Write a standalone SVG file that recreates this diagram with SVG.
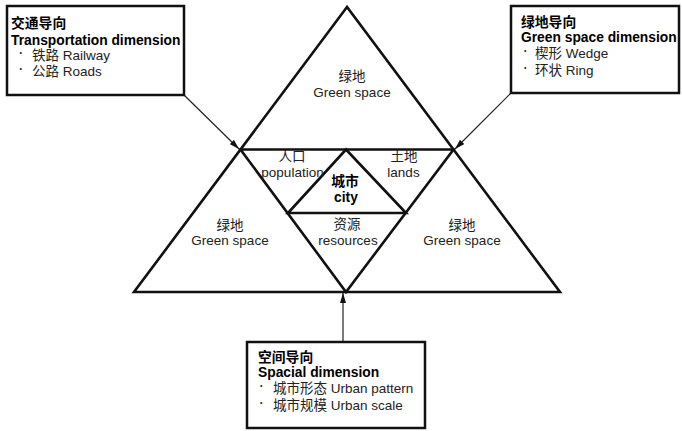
<svg xmlns="http://www.w3.org/2000/svg" width="682" height="431" viewBox="0 0 682 431">
<style>
.t{font-family:"Liberation Sans","Noto Sans CJK SC",Arial,sans-serif;font-size:13.5px;fill:#222}
.b{font-family:"Liberation Sans","Noto Sans CJK SC",Arial,sans-serif;font-size:13.8px;font-weight:bold;fill:#000}
.c{text-anchor:middle}
.dot{font-family:"Liberation Sans",sans-serif;font-size:7px;fill:#222}
.box{fill:#fff;stroke:#111;stroke-width:2.5}
.tri{fill:none;stroke:#111;stroke-width:2.6;stroke-linejoin:miter}
.arr{stroke:#222;stroke-width:1.2;fill:none}
</style>
<defs>
<marker id="ah" viewBox="0 0 10 6" refX="10" refY="3" markerWidth="10" markerHeight="6" markerUnits="userSpaceOnUse" orient="auto">
<path d="M0,0 L10,3 L0,6 Z" fill="#111"/>
</marker>
</defs>
<rect width="682" height="431" fill="#fff"/>

<g id="triangles">
<polygon class="tri" points="347,7 134,292 560,292"/>
<polygon class="tri" points="240.5,149.5 453.5,149.5 346,292"/>
<polygon class="tri" points="346,149.5 288,213 406,213"/>
</g>

<g id="connectors">
<line class="arr" x1="184" y1="95" x2="239" y2="149" marker-end="url(#ah)"/>
<line class="arr" x1="511" y1="93" x2="455" y2="149" marker-end="url(#ah)"/>
<line class="arr" x1="343" y1="342" x2="343" y2="293" marker-end="url(#ah)"/>
</g>

<g id="top-green">
<text class="t c" x="352" y="81">绿地</text>
<text class="t c" x="352" y="97">Green space</text>
</g>
<g id="left-green">
<text class="t c" x="230" y="230">绿地</text>
<text class="t c" x="230" y="245">Green space</text>
</g>
<g id="right-green">
<text class="t c" x="462" y="230">绿地</text>
<text class="t c" x="462" y="245">Green space</text>
</g>
<g id="population">
<text class="t c" x="292" y="161">人口</text>
<text class="t c" x="292.5" y="177">population</text>
</g>
<g id="lands">
<text class="t c" x="404" y="161">土地</text>
<text class="t c" x="403.5" y="177">lands</text>
</g>
<g id="city">
<text class="b c" x="345" y="186">城市</text>
<text class="b c" x="346" y="202">city</text>
</g>
<g id="resources">
<text class="t c" x="347" y="229">资源</text>
<text class="t c" x="348" y="245">resources</text>
</g>

<g id="transport-box">
<rect class="box" x="7" y="6" width="177" height="89"/>
<text class="b" x="11" y="28">交通导向</text>
<text class="b" x="11" y="45">Transportation dimension</text>
<text class="dot" x="19.5" y="55">•</text>
<text class="t" x="32" y="60">铁路 Railway</text>
<text class="dot" x="19.5" y="71">•</text>
<text class="t" x="32" y="76">公路 Roads</text>
</g>

<g id="green-box">
<rect class="box" x="511" y="6" width="168" height="87"/>
<text class="b" x="521" y="27">绿地导向</text>
<text class="b" x="521" y="42">Green space dimension</text>
<text class="dot" x="524" y="53">•</text>
<text class="t" x="535" y="58">楔形 Wedge</text>
<text class="dot" x="524" y="70">•</text>
<text class="t" x="535" y="75">环状 Ring</text>
</g>

<g id="spatial-box">
<rect class="box" x="247" y="342" width="178" height="86"/>
<text class="b" x="258" y="362">空间导向</text>
<text class="b" x="258" y="377">Spacial dimension</text>
<text class="dot" x="260" y="388">•</text>
<text class="t" x="273" y="393">城市形态 Urban pattern</text>
<text class="dot" x="260" y="405">•</text>
<text class="t" x="273" y="410">城市规模 Urban scale</text>
</g>
</svg>
